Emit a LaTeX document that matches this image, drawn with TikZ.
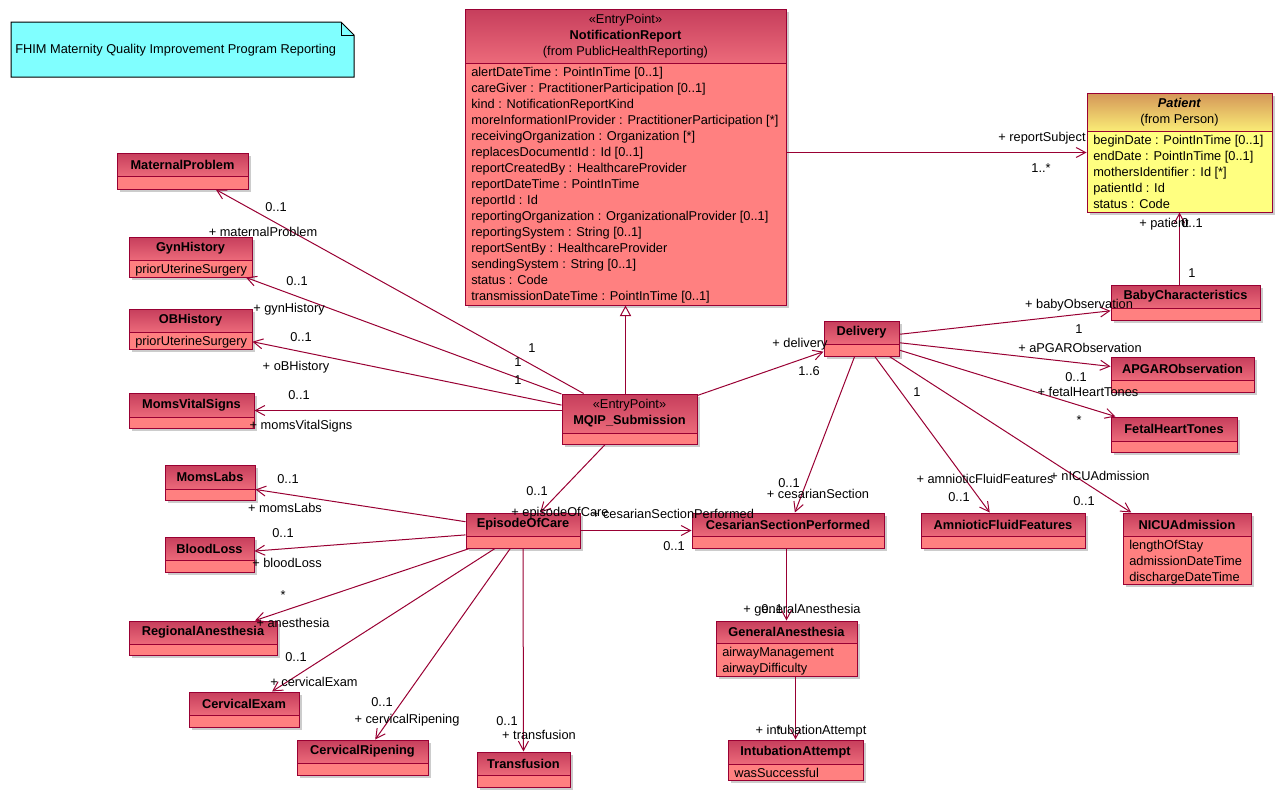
\documentclass[tikz,border=0pt]{standalone}
\usepackage{fontspec}
\setmainfont{Liberation Sans}
\usepackage{tikz}
\usetikzlibrary{arrows.meta,positioning,fit,calc}

\definecolor{umlline}{RGB}{153,0,51}
\definecolor{hdtop}{RGB}{198,62,92}
\definecolor{hdbot}{RGB}{236,106,122}
\definecolor{clsbody}{RGB}{255,128,128}
\definecolor{pattop}{RGB}{212,150,88}
\definecolor{patbot}{RGB}{250,236,118}
\definecolor{patbody}{RGB}{255,255,128}
\definecolor{notefill}{RGB}{128,255,255}

% class box: [scheme]{name}{x1}{y1}{x2}{y2}{split}{header}{attributes}
\newcommand{\umlclass}[9][red]{%
  \fill[shadowfill] (#3+3,#4+3) rectangle (#5+3,#6+3);
  \fill[#1body] (#3,#7) rectangle (#5,#6);
  \shade[#1head] (#3,#4) rectangle (#5,#7);
  \draw[clsframe] (#3,#7) -- (#5,#7);
  \node[clsframe, inner sep=0pt, fit={(#3,#4) (#5,#6)}] (#2) {};
  \node[clstitle] (#2Name) at ({(#3+#5)/2},{(#4+#7)/2}) {#8};
  \node[clsattrs] (#2Attr) at (#3+6,#7+4) {#9};
}

\begin{document}
\begin{tikzpicture}[
    x=0.75pt, y=-0.75pt,
    txt/.style={font=\fontsize{9.6}{12}\selectfont, inner sep=0pt},
    clsframe/.style={draw=umlline, line width=0.75pt},
    clstitle/.style={txt, align=center},
    clsattrs/.style={txt, align=left, anchor=north west},
    redhead/.style={top color=hdtop, bottom color=hdbot},
    redbody/.style={fill=clsbody},
    yellowhead/.style={top color=pattop, bottom color=patbot},
    yellowbody/.style={fill=patbody},
    shadowfill/.style={fill=black!20},
    assoc/.style={draw=umlline, line width=0.75pt, -{Straight Barb[length=7pt,width=7.5pt]}},
    gen/.style={draw=umlline, line width=0.75pt, -{Triangle[open,length=8pt,width=8.5pt,fill=white]}},
    lbl/.style={txt, text height=8.5pt, text depth=1.5pt},
    notebox/.style={draw=black, line width=0.75pt, fill=notefill},
]
\useasboundingbox (0,0) rectangle (1285,803);

% Note
\draw[notebox] (11,22) -- (341,22) -- (354,35) -- (354,77) -- (11,77) -- cycle;
\draw[line width=0.75pt] (341,22) -- (341,35) -- (354,35);
\node[lbl, anchor=west] (note) at (15,49) {FHIM Maternity Quality Improvement Program Reporting};

% Entry points
\umlclass{nr}{465}{9}{786}{305}{63}{«EntryPoint»\\\textbf{NotificationReport}\\(from PublicHealthReporting)}{alertDateTime : PointInTime [0..1]\\careGiver : PractitionerParticipation [0..1]\\kind : NotificationReportKind\\moreInformationIProvider : PractitionerParticipation [*]\\receivingOrganization : Organization [*]\\replacesDocumentId : Id [0..1]\\reportCreatedBy : HealthcareProvider\\reportDateTime : PointInTime\\reportId : Id\\reportingOrganization : OrganizationalProvider [0..1]\\reportingSystem : String [0..1]\\reportSentBy : HealthcareProvider\\sendingSystem : String [0..1]\\status : Code\\transmissionDateTime : PointInTime [0..1]}
\umlclass{mqip}{562}{394}{697}{444}{433}{«EntryPoint»\\\textbf{MQIP\_Submission}}{}
\umlclass[yellow]{patient}{1087}{93}{1272}{212}{131}{\textbf{\textit{Patient}}\\(from Person)}{beginDate : PointInTime [0..1]\\endDate : PointInTime [0..1]\\mothersIdentifier : Id [*]\\patientId : Id\\status : Code}

% Left column
\umlclass{maternal}{117}{153}{248}{189}{176}{\textbf{MaternalProblem}}{}
\umlclass{gyn}{129}{237}{252}{277}{260}{\textbf{GynHistory}}{priorUterineSurgery}
\umlclass{ob}{129}{309}{252}{349}{332}{\textbf{OBHistory}}{priorUterineSurgery}
\umlclass{vital}{129}{393}{254}{428}{417}{\textbf{MomsVitalSigns}}{}
\umlclass{labs}{165}{465}{255}{500}{489}{\textbf{MomsLabs}}{}
\umlclass{blood}{165}{537}{254}{572}{560}{\textbf{BloodLoss}}{}
\umlclass{regional}{129}{621}{277}{655}{644}{\textbf{RegionalAnesthesia}}{}
\umlclass{cexam}{189}{692}{299}{727}{715}{\textbf{CervicalExam}}{}
\umlclass{cripe}{297}{740}{428}{775}{763}{\textbf{CervicalRipening}}{}
\umlclass{transf}{477}{752}{570}{787}{775}{\textbf{Transfusion}}{}

% Middle
\umlclass{episode}{466}{513}{580}{548}{536}{\textbf{EpisodeOfCare}}{}
\umlclass{csp}{692}{513}{884}{548}{536}{\textbf{CesarianSectionPerformed}}{}
\umlclass{genan}{716}{621}{857}{676}{643}{\textbf{GeneralAnesthesia}}{airwayManagement\\airwayDifficulty}
\umlclass{intub}{728}{740}{863}{780}{764}{\textbf{IntubationAttempt}}{wasSuccessful}

% Delivery and its parts
\umlclass{delivery}{824}{321}{899}{356}{344}{\textbf{Delivery}}{}
\umlclass{baby}{1111}{285}{1260}{320}{308}{\textbf{BabyCharacteristics}}{}
\umlclass{apgar}{1111}{357}{1254}{392}{380}{\textbf{APGARObservation}}{}
\umlclass{fetal}{1111}{417}{1237}{452}{441}{\textbf{FetalHeartTones}}{}
\umlclass{amniotic}{921}{513}{1085}{548}{536}{\textbf{AmnioticFluidFeatures}}{}
\umlclass{nicu}{1123}{513}{1251}{584}{536}{\textbf{NICUAdmission}}{lengthOfStay\\admissionDateTime\\dischargeDateTime}

% Connectors
\draw[assoc] (nr.east |- patient.west) -- (patient.west);
\draw[gen] (nr.south |- mqip.north) -- (nr.south);
\draw[assoc] (mqip) -- (maternal);
\draw[assoc] (mqip) -- (gyn);
\draw[assoc] (mqip) -- (ob);
\draw[assoc] (mqip.west |- vital.east) -- (vital.east);
\draw[assoc] (mqip) -- (delivery);
\draw[assoc] (mqip) -- (episode);
\foreach \c in {baby,apgar,fetal,amniotic,nicu,csp}
  \draw[assoc] (delivery) -- (\c);
\draw[assoc] (patient.south |- baby.north) -- (patient.south);
\foreach \c in {labs,blood,regional,cexam,cripe,transf,csp}
  \draw[assoc] (episode) -- (\c);
\draw[assoc] (genan.north |- csp.south) -- (genan.north);
\draw[assoc] (intub.north |- genan.south) -- (intub.north);

% Roles and multiplicities
\node[lbl] (rSubject) at (1042,137) {+ reportSubject};
\node[lbl] (mSubject) at (1041,168) {1..*};
\node[lbl] (mMaternal) at (276,207) {0..1};
\node[lbl] (rMaternal) at (263,232) {+ maternalProblem};
\node[lbl] (sMaternal) at (532,348) {1};
\node[lbl] (mGyn) at (297,281) {0..1};
\node[lbl] (rGyn) at (289,308) {+ gynHistory};
\node[lbl] (sGyn) at (518,362) {1};
\node[lbl] (mOb) at (301,337) {0..1};
\node[lbl] (rOb) at (296,366) {+ oBHistory};
\node[lbl] (sOb) at (518,380) {1};
\node[lbl] (mVital) at (299,395) {0..1};
\node[lbl] (rVital) at (301,425) {+ momsVitalSigns};
\node[lbl] (rDelivery) at (800,343) {+ delivery};
\node[lbl] (mDelivery) at (809,371) {1..6};
\node[lbl] (mEpisode) at (537,491) {0..1};
\node[lbl] (rEpisode) at (560,512) {+ episodeOfCare};
\node[lbl] (rBaby) at (1079,304) {+ babyObservation};
\node[lbl] (mBaby) at (1079,329) {1};
\node[lbl] (rApgar) at (1080,348) {+ aPGARObservation};
\node[lbl] (mApgar) at (1076,377) {0..1};
\node[lbl] (rFetal) at (1088,392) {+ fetalHeartTones};
\node[lbl] (mFetal) at (1079,420) {*};
\node[lbl] (sAmniotic) at (917,392) {1};
\node[lbl] (rAmniotic) at (985,479) {+ amnioticFluidFeatures};
\node[lbl] (mAmniotic) at (959,497) {0..1};
\node[lbl] (rNicu) at (1100,476) {+ nICUAdmission};
\node[lbl] (mNicu) at (1084,501) {0..1};
\node[lbl] (rPatient) at (1164,223) {+ patient};
\node[lbl] (mPatient) at (1192,223) {0..1};
\node[lbl] (sPatient) at (1192,273) {1};
\node[lbl] (mCsp) at (789,483) {0..1};
\node[lbl] (rCsp) at (818,494) {+ cesarianSection};
\node[lbl] (rCspEp) at (673,514) {+ cesarianSectionPerformed};
\node[lbl] (mCspEp) at (674,546) {0..1};
\node[lbl] (rGenan) at (802,609) {+ generalAnesthesia};
\node[lbl] (mGenan) at (772,609) {0..1};
\node[lbl] (rIntub) at (811,730) {+ intubationAttempt};
\node[lbl] (mIntub) at (779,730) {*};
\node[lbl] (mLabs) at (288,479) {0..1};
\node[lbl] (rLabs) at (285,508) {+ momsLabs};
\node[lbl] (mBlood) at (283,533) {0..1};
\node[lbl] (rBlood) at (287,563) {+ bloodLoss};
\node[lbl] (mRegional) at (283,595) {*};
\node[lbl] (rRegional) at (293,623) {+ anesthesia};
\node[lbl] (mCexam) at (296,657) {0..1};
\node[lbl] (rCexam) at (314,682) {+ cervicalExam};
\node[lbl] (mCripe) at (382,702) {0..1};
\node[lbl] (rCripe) at (407,719) {+ cervicalRipening};
\node[lbl] (mTransf) at (507,721) {0..1};
\node[lbl] (rTransf) at (539,735) {+ transfusion};

\end{tikzpicture}
\end{document}
